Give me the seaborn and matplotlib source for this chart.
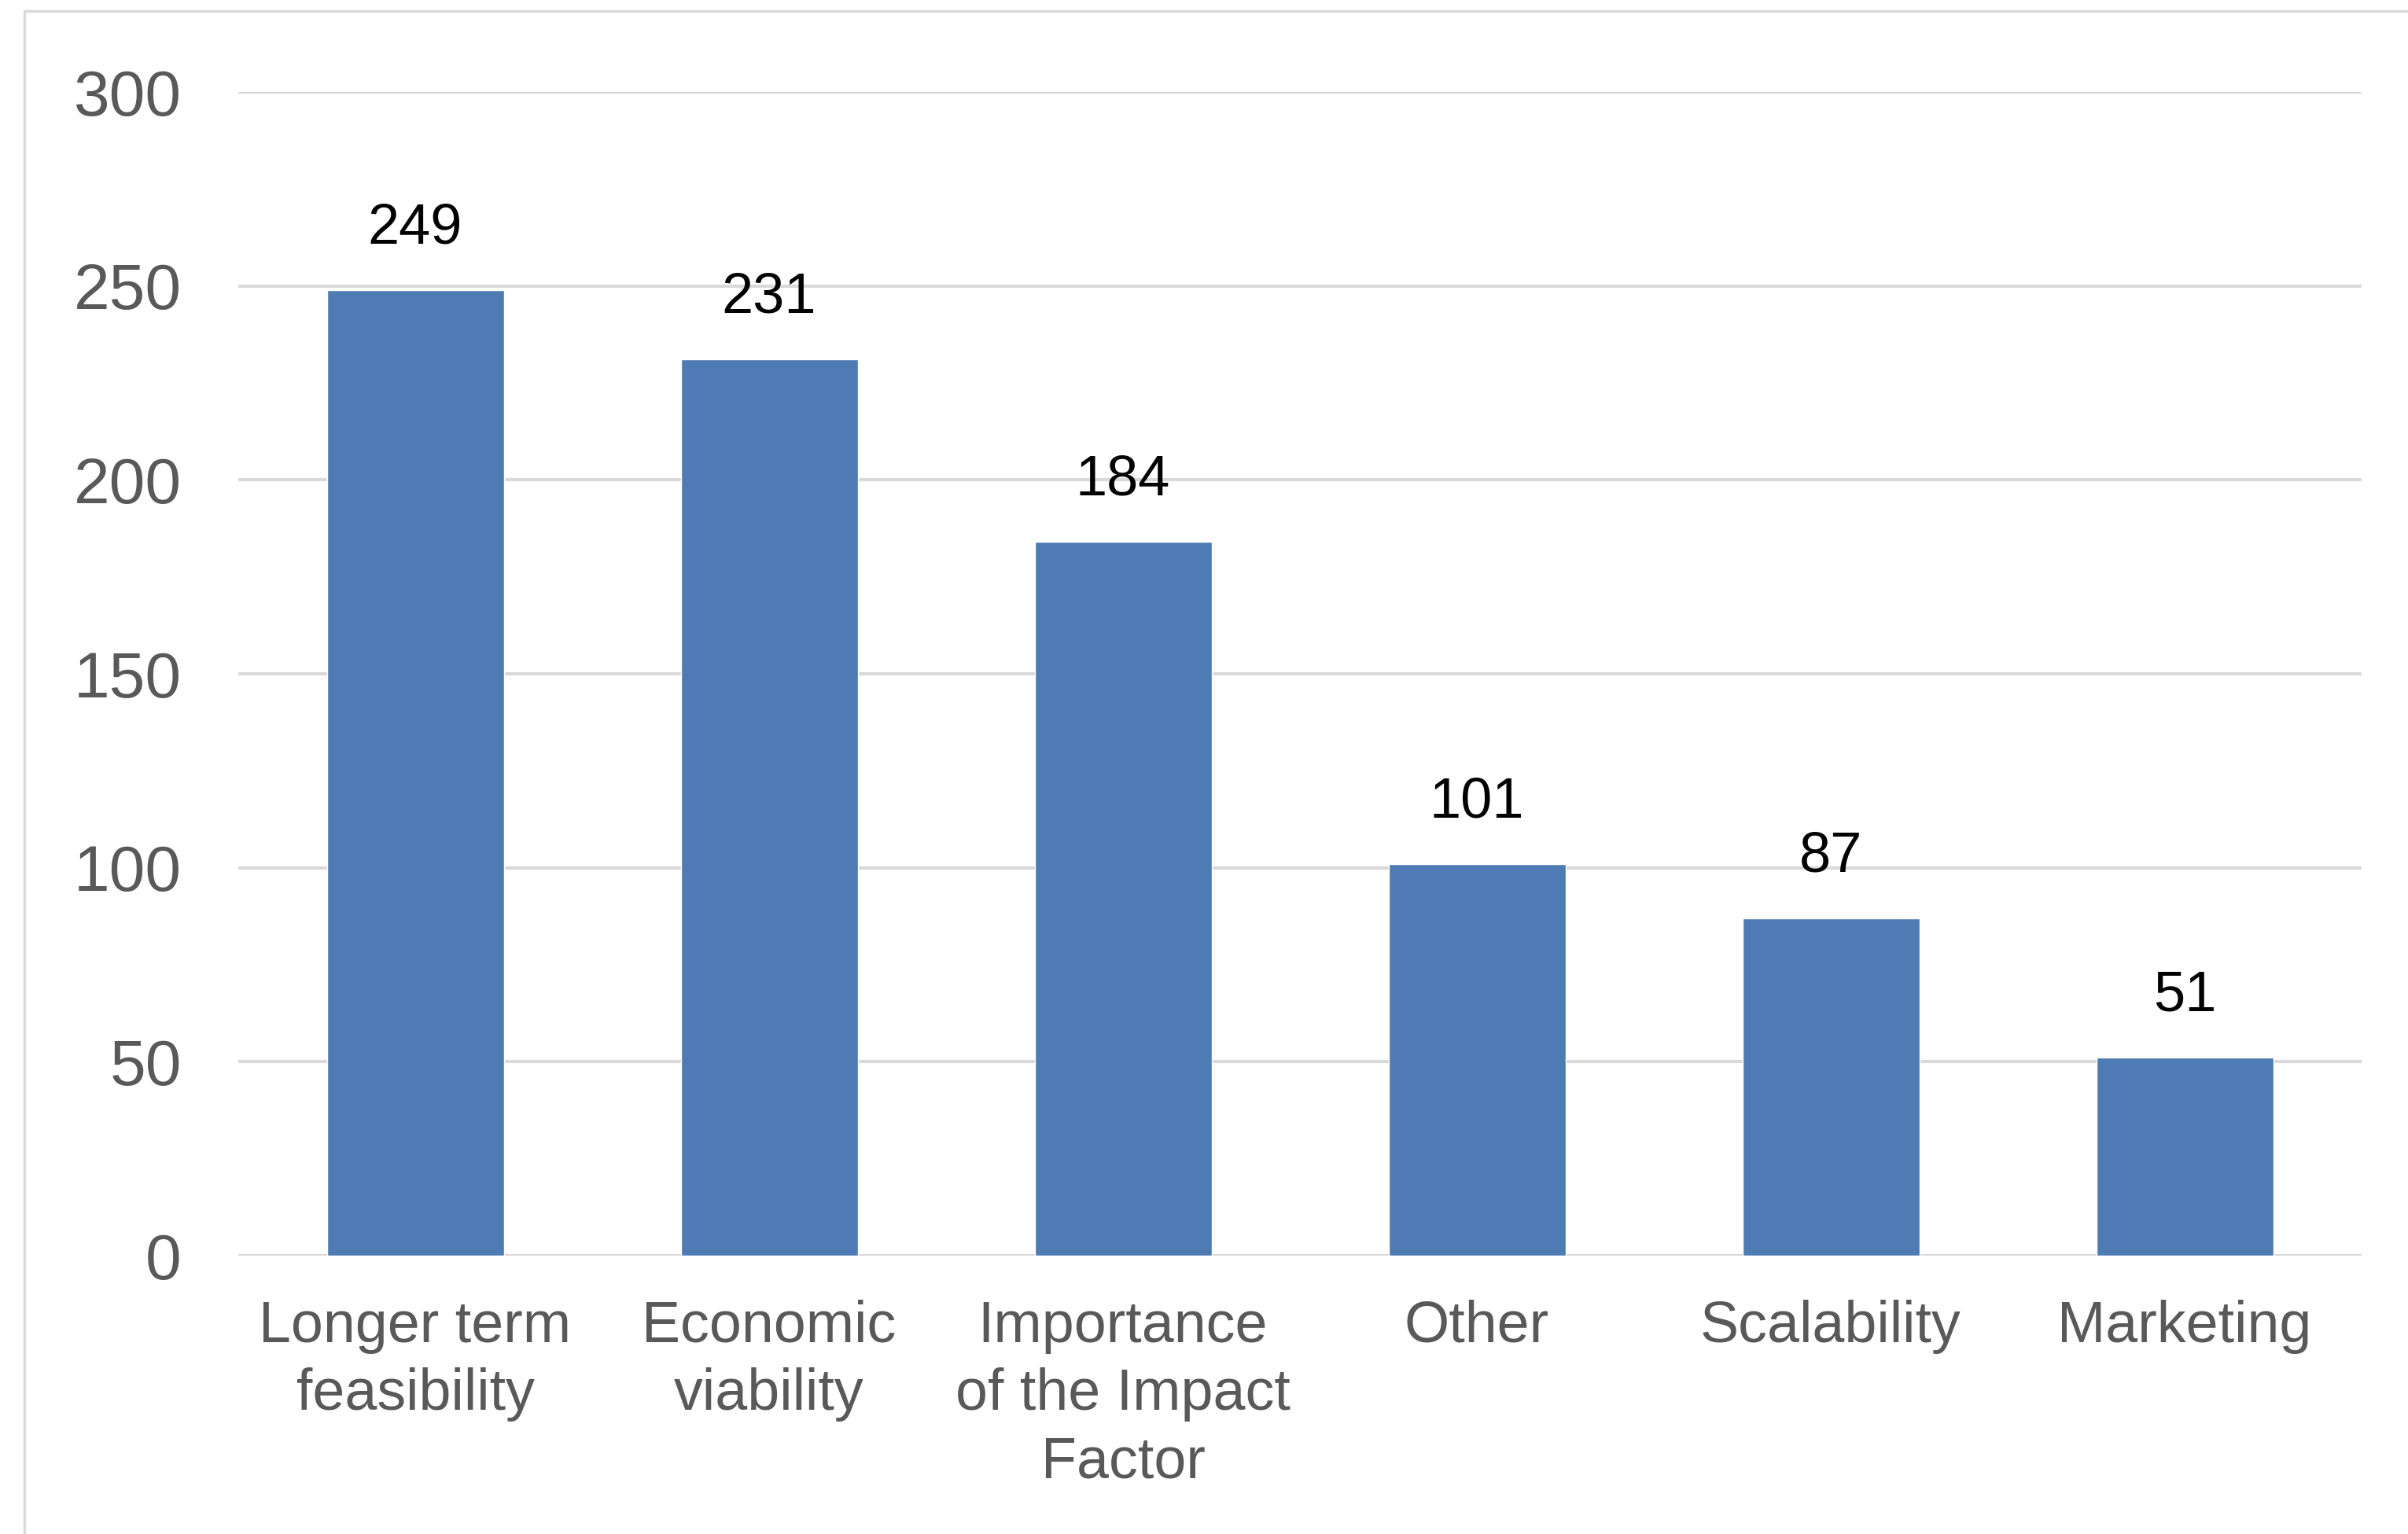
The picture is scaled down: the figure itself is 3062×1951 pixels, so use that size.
import matplotlib
matplotlib.use("Agg")
import matplotlib.pyplot as plt
from matplotlib.lines import Line2D
import seaborn as sns
import pandas as pd

# Survey results: reasons cited, by category
categories = [
    "Longer term\nfeasibility",
    "Economic\nviability",
    "Importance\nof the Impact\nFactor",
    "Other",
    "Scalability",
    "Marketing",
]
counts = [249, 231, 184, 101, 87, 51]
y_ticks = [0, 50, 100, 150, 200, 250, 300]

BAR_COLOR = "#4F7BB4"
GRID_COLOR = "#D9D9D9"
TICK_COLOR = "#595959"

sns.set_theme(style="white")
plt.rcParams["font.family"] = ["Liberation Sans", "DejaVu Sans"]

W, H = 3062, 1951
fig = plt.figure(figsize=(W / 100, H / 100), dpi=100)
fig.patch.set_facecolor("white")

ax = fig.add_axes([303 / W, (H - 1597) / H, 2700 / W, 1480 / H])

df = pd.DataFrame({"category": categories, "count": counts})
sns.barplot(data=df, x="category", y="count", color=BAR_COLOR,
            saturation=1, width=0.5, ax=ax, zorder=3)

ax.set_ylim(0, 300)
ax.set_xlim(-0.5, len(categories) - 0.5)
ax.set_yticks(y_ticks)
ax.set_yticklabels([str(v) for v in y_ticks])
ax.set_xlabel("")
ax.set_ylabel("")

# horizontal gridlines behind the bars
ax.set_axisbelow(True)
ax.yaxis.grid(True, color=GRID_COLOR, linewidth=3.0)
ax.xaxis.grid(False)
for s in ax.spines.values():
    s.set_visible(False)

ax.tick_params(axis="y", length=0, pad=52, labelsize=59, labelcolor=TICK_COLOR)
ax.tick_params(axis="x", length=0, pad=40, labelsize=53, labelcolor=TICK_COLOR)
for lbl in ax.get_xticklabels():
    lbl.set_linespacing(1.32)
    lbl.set_horizontalalignment("center")

# value labels above each bar
for container in ax.containers:
    ax.bar_label(container, labels=[str(v) for v in counts],
                 padding=32, fontsize=52, color="black")

# light chart-area frame along the top and left
fig.add_artist(Line2D([31 / W, 31 / W], [0, 1 - 14 / H],
                      transform=fig.transFigure, color=GRID_COLOR, linewidth=2.5))
fig.add_artist(Line2D([31 / W, 1], [1 - 14 / H, 1 - 14 / H],
                      transform=fig.transFigure, color=GRID_COLOR, linewidth=2.5))

fig.savefig("out.png", dpi=100, facecolor="white")
